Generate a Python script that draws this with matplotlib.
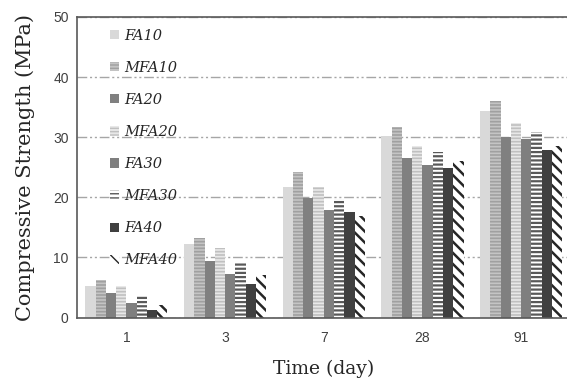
import matplotlib
matplotlib.use("Agg")
from matplotlib import pyplot as plt
import numpy as np

days = ['1', '3', '7', '28', '91']
mixes = ['FA10', 'MFA10', 'FA20', 'MFA20', 'FA30', 'MFA30', 'FA40', 'MFA40']

# compressive strength (MPa) per mix, one value per curing age
FA10 = [5.2, 12.3, 21.7, 30.2, 34.4]
MFA10 = [6.3, 13.3, 24.2, 31.7, 36.0]
FA20 = [4.1, 9.4, 19.9, 26.6, 30.1]
MFA20 = [5.2, 11.5, 21.7, 28.6, 32.4]
FA30 = [2.4, 7.3, 17.9, 25.3, 29.7]
MFA30 = [3.7, 9.1, 19.8, 27.6, 30.9]
FA40 = [1.3, 5.6, 17.6, 24.9, 27.8]
MFA40 = [2.0, 7.1, 16.9, 26.1, 28.5]
values = [FA10, MFA10, FA20, MFA20, FA30, MFA30, FA40, MFA40]

# (face colour, hatch, hatch colour, hatch line width)
styles = [
    ('#d9d9d9', None, None, 0),
    ('#c4c4c4', '-----', '#a0a0a0', 1.2),
    ('#808080', None, None, 0),
    ('#e8e8e8', '-----', '#c0c0c0', 1.2),
    ('#7f7f7f', None, None, 0),
    ('#ffffff', '----', '#595959', 1.6),
    ('#404040', None, None, 0),
    ('#ffffff', '\\\\\\', '#262626', 1.8),
]

fig = plt.figure(figsize=(5.67, 3.89), dpi=100)
ax = fig.add_axes([77 / 567, 71.5 / 389, 493.5 / 567, 300.5 / 389])

x = np.arange(len(days))
w = 0.104
for i, (name, vals) in enumerate(zip(mixes, values)):
    fc, hatch, hc, hlw = styles[i]
    pos = x - 3.5 * w + i * w
    if hatch:
        bars = ax.bar(pos, vals, w, color=fc, edgecolor=hc, linewidth=0,
                      hatch=hatch, label=name, zorder=2)
        for b in bars:
            if hasattr(b, 'set_hatch_linewidth'):
                b.set_hatch_linewidth(hlw)
    else:
        ax.bar(pos, vals, w, color=fc, linewidth=0, label=name, zorder=2)

ax.set_xlim(-0.5, len(days) - 0.5)
ax.set_ylim(0, 50)
ax.set_yticks([0, 10, 20, 30, 40, 50])
ax.set_xticks(x)
ax.set_xticklabels(days)
ax.tick_params(length=0, labelsize=10, colors='#404040')
for lab in ax.get_xticklabels() + ax.get_yticklabels():
    lab.set_family('Liberation Sans')
ax.tick_params(axis='y', pad=6)
ax.tick_params(axis='x', pad=10)

ax.yaxis.grid(True, color='#a6a6a6', linewidth=1.0,
              linestyle=(0, (7, 2, 1.5, 2, 1.5, 2)), zorder=0)
ax.set_axisbelow(True)
for s in ax.spines.values():
    s.set_color('#595959')
    s.set_linewidth(1.2)

ax.set_ylabel('Compressive Strength (MPa)', family='DejaVu Serif',
              fontsize=15, color='#262626', labelpad=13)
ax.set_xlabel('Time (day)', family='DejaVu Serif', fontsize=13.5,
              color='#262626', labelpad=10)

leg = ax.legend(loc='upper left', bbox_to_anchor=(0.055, 0.98), frameon=False,
                prop={'family': 'DejaVu Serif', 'style': 'italic', 'size': 10.5},
                handlelength=0.6, handleheight=0.6, handletextpad=0.4,
                labelspacing=1.24, borderaxespad=0)
for t in leg.get_texts():
    t.set_color('#262626')

fig.savefig('out.png', dpi=100)
